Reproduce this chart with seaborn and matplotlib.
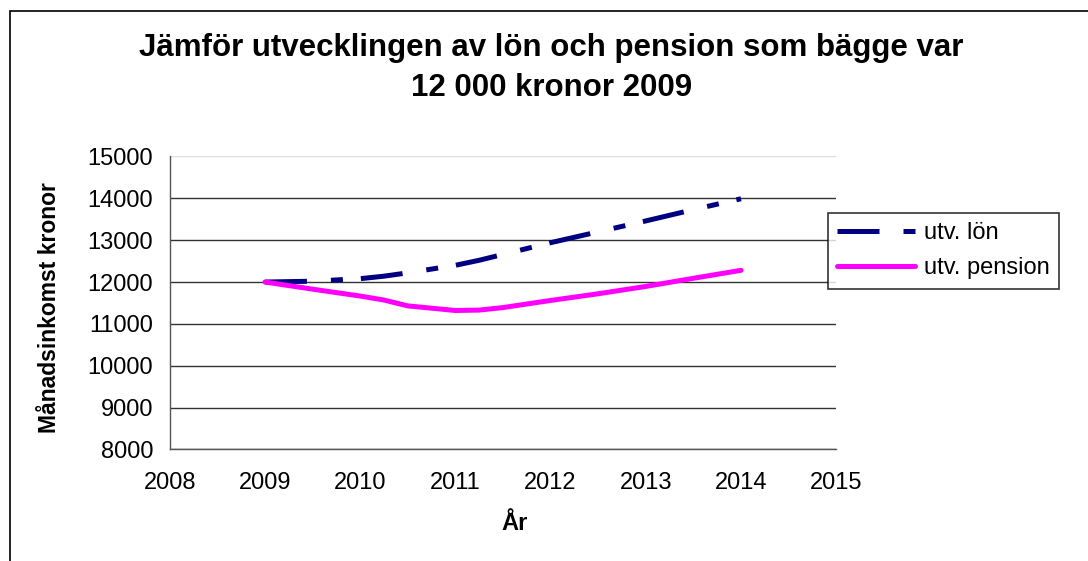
import numpy as np
import pandas as pd
import seaborn as sns
import matplotlib.pyplot as plt
from matplotlib.patches import Rectangle

# data (half-year steps)
ar = [2009, 2009.5, 2010, 2010.25, 2010.5, 2011, 2011.25, 2011.5,
      2012, 2012.5, 2013, 2013.5, 2014]
utv_lon = [12000, 12020, 12080, 12140, 12220, 12400, 12520, 12660,
           12940, 13200, 13460, 13730, 13990]
utv_pension = [12000, 11830, 11665, 11570, 11430, 11320, 11330, 11390,
               11560, 11720, 11895, 12090, 12280]

x_ticks = [2008, 2009, 2010, 2011, 2012, 2013, 2014, 2015]
y_ticks = [8000, 9000, 10000, 11000, 12000, 13000, 14000, 15000]

df = pd.DataFrame({"År": ar, "utv. lön": utv_lon, "utv. pension": utv_pension})

sns.set_style("white")
plt.rcParams['font.family'] = ['Liberation Sans', 'DejaVu Sans']
plt.rcParams['text.color'] = 'black'

fig = plt.figure(figsize=(10.88, 5.61), dpi=100)
ax = fig.add_axes([0.156, 0.1988, 0.6126, 0.5223])

# lines
sns.lineplot(data=df, x="År", y="utv. lön", ax=ax, color="#000080", lw=3.6,
             linestyle=(0, (8.4, 4.8, 2.4, 3.6)), dash_capstyle="butt",
             label="utv. lön")
sns.lineplot(data=df, x="År", y="utv. pension", ax=ax, color="#FF00FF", lw=3.6,
             solid_capstyle="round", label="utv. pension")

ax.set_xlim(2008, 2015)
ax.set_ylim(8000, 15000)
ax.set_xticks(x_ticks)
ax.set_yticks(y_ticks)
ax.tick_params(axis="both", labelsize=17, labelcolor="black", direction="out",
               length=7, width=1, pad=5)
ax.tick_params(axis="x", pad=9)
for t in ax.xaxis.get_ticklines() + ax.yaxis.get_ticklines():
    t.set_color("#555555")

ax.grid(axis="y", color="#333333", lw=1)
ax.yaxis.get_gridlines()[-1].set_color("#dddddd")
ax.set_axisbelow(True)
for s in ["top", "right"]:
    ax.spines[s].set_visible(False)
for s in ["left", "bottom"]:
    ax.spines[s].set_color("#555555")
    ax.spines[s].set_linewidth(1)
ax.set_xlabel("")
ax.set_ylabel("")

# titles and axis labels
fig.suptitle("Jämför utvecklingen av lön och pension som bägge var\n12 000 kronor 2009",
             x=0.507, y=1 - 68 / 561, va="center", fontsize=22.5,
             fontweight="bold", linespacing=1.45, color="black")
fig.text(50 / 1088, 1 - 308 / 561, "Månadsinkomst kronor", rotation=90,
         ha="center", va="center", fontsize=16.5, fontweight="bold")
fig.text(515 / 1088, 1 - 523 / 561, "År", ha="center", va="center",
         fontsize=17, fontweight="bold")

leg = ax.legend(loc="upper left", bbox_to_anchor=(828 / 1088, 1 - 213 / 561),
                bbox_transform=fig.transFigure, fontsize=17, frameon=True,
                fancybox=False, edgecolor="black", handlelength=3.3,
                handletextpad=0.35, borderpad=0.4, labelspacing=0.55,
                borderaxespad=0)
leg.get_frame().set_linewidth(1.2)
for txt in leg.get_texts():
    txt.set_color("black")

# outer chart border
fig.patches.append(Rectangle((10 / 1088, -0.05), 1.1, 1 - 11 / 561 + 0.05,
                             transform=fig.transFigure, fill=False,
                             ec="black", lw=1.2))

fig.savefig("out.png", dpi=100)
